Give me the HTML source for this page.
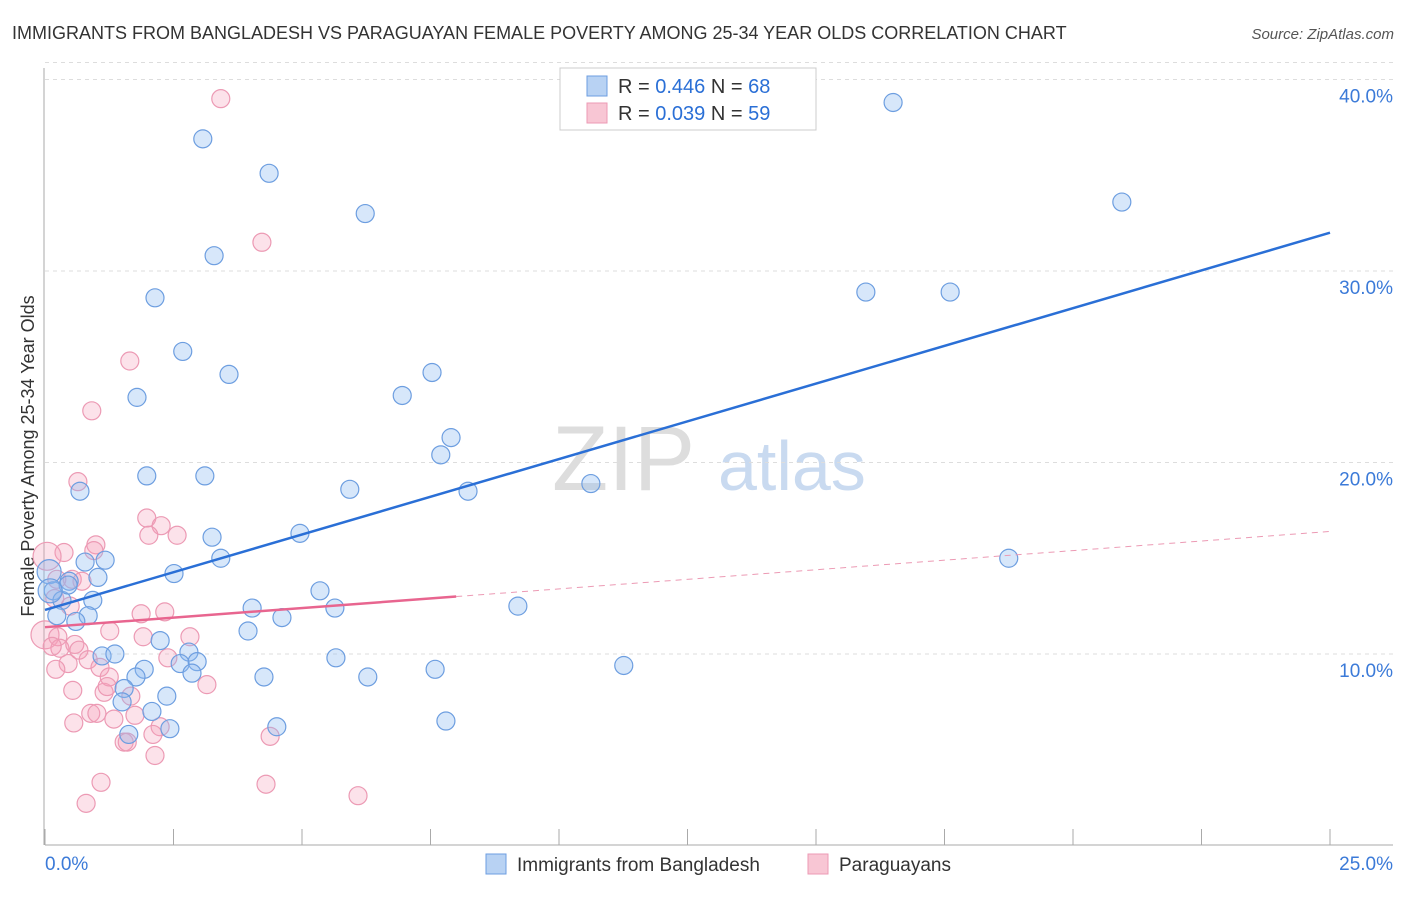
<!DOCTYPE html>
<html><head><meta charset="utf-8"><style>
body{margin:0;background:#fff;font-family:"Liberation Sans",sans-serif}
svg text{font-family:"Liberation Sans",sans-serif}
</style></head><body>
<svg id="chart" width="1406" height="892" xmlns="http://www.w3.org/2000/svg">
<text x="12" y="39" font-size="18" fill="#333">IMMIGRANTS FROM BANGLADESH VS PARAGUAYAN FEMALE POVERTY AMONG 25-34 YEAR OLDS CORRELATION CHART</text>
<text x="1394" y="39" font-size="15" fill="#555" font-style="italic" text-anchor="end">Source: ZipAtlas.com</text>
<text transform="translate(34,456) rotate(-90)" font-size="18" fill="#333" text-anchor="middle">Female Poverty Among 25-34 Year Olds</text>
<text x="552" y="490" font-size="92" fill="#ddd" font-family="Liberation Serif">ZIP</text>
<text x="718" y="490" font-size="70" fill="#c9daf0">atlas</text>
<g id="grid"></g><g id="marks"></g>
<g>
<rect x="560" y="68" width="256" height="62" fill="#fff" stroke="#ccc"/>
<rect x="587" y="76" width="20" height="20" fill="#b8d2f3" stroke="#6d9ee0"/>
<rect x="587" y="103" width="20" height="20" fill="#f8c6d4" stroke="#ec9ab4"/>
<text x="618" y="93" font-size="20" fill="#333">R = <tspan fill="#2a6fd6">0.446</tspan>    N = <tspan fill="#2a6fd6">68</tspan></text>
<text x="618" y="120" font-size="20" fill="#333">R = <tspan fill="#2a6fd6">0.039</tspan>    N = <tspan fill="#2a6fd6">59</tspan></text>
</g>
<g>
<rect x="486" y="854" width="20" height="20" fill="#b8d2f3" stroke="#6d9ee0"/>
<text x="517" y="871" font-size="19" fill="#333">Immigrants from Bangladesh</text>
<rect x="808" y="854" width="20" height="20" fill="#f8c6d4" stroke="#ec9ab4"/>
<text x="839" y="871" font-size="19" fill="#333">Paraguayans</text>
</g>
</svg>
<script>
const xTicks=[0,2.5,5,7.5,10,12.5,15,17.5,20,22.5,25];
const yTicks=[10,20,30,40];
const yTickLabels=["10.0%","20.0%","30.0%","40.0%"];
const blueX=[3.07,4.36,2.14,3.29,6.23,2.68,3.58,1.79,7.53,6.95,7.90,7.70,1.98,3.11,0.68,5.93,8.23,10.62,16.50,20.95,15.97,17.61,18.75,4.96,3.25,3.42,1.17,0.78,1.03,2.51,0.47,0.08,0.16,0.93,0.33,5.35,4.03,5.64,4.61,9.20,0.23,0.84,0.60,3.95,2.24,1.11,1.36,2.80,2.63,2.96,1.93,1.77,2.86,5.66,4.26,6.28,7.59,11.26,1.54,1.50,2.37,2.08,1.63,2.43,4.51,7.80,0.45,0.10];
const blueY=[36.9,35.1,28.6,30.8,33.0,25.8,24.6,23.4,24.7,23.5,21.3,20.4,19.3,19.3,18.5,18.6,18.5,18.9,38.8,33.6,28.9,28.9,15.0,16.3,16.1,15.0,14.9,14.8,14.0,14.2,13.8,14.3,13.3,12.8,12.8,13.3,12.4,12.4,11.9,12.5,12.0,12.0,11.7,11.2,10.7,9.9,10.0,10.1,9.5,9.6,9.2,8.8,9.0,9.8,8.8,8.8,9.2,9.4,8.2,7.5,7.8,7.0,5.8,6.1,6.2,6.5,13.6,13.3];
const pinkX=[3.42,4.22,1.65,0.91,0.64,1.98,2.26,2.02,2.57,0.99,0.37,0.95,0.04,0.53,0.23,0.72,0.19,0.49,1.87,2.33,0.0,0.25,1.26,0.29,0.58,0.66,0.14,2.82,1.91,0.84,0.45,0.21,1.07,2.39,3.15,0.54,1.15,1.67,1.25,1.21,0.89,1.01,1.34,1.75,0.56,2.24,2.10,1.54,1.60,2.14,4.38,1.09,4.30,6.09,0.80];
const pinkY=[39.0,31.5,25.3,22.7,19.0,17.1,16.7,16.2,16.2,15.7,15.3,15.4,15.1,13.9,13.9,13.8,12.9,12.5,12.1,12.2,11.0,10.9,11.2,10.3,10.5,10.2,10.4,10.9,10.9,9.7,9.5,9.2,9.3,9.8,8.4,8.1,8.0,7.8,8.8,8.3,6.9,6.9,6.6,6.8,6.4,6.2,5.8,5.4,5.4,4.7,5.7,3.3,3.2,2.6,2.2];
const blueTrend=[12.3,32.0];
const pinkTrend=[11.4,16.4];
const pinkSolidEnd=8;
const X=v=>45+v*51.4, Y=v=>845.5-v*19.15;
const NS="http://www.w3.org/2000/svg";
function mk(tag,attrs,parent){const e=document.createElementNS(NS,tag);for(const k in attrs)e.setAttribute(k,attrs[k]);parent.appendChild(e);return e;}
const grid=document.getElementById('grid'),marks=document.getElementById('marks');
let t=mk('line',{x1:45,y1:Y(40)-17,x2:1393,y2:Y(40)-17,stroke:'#ddd','stroke-dasharray':'4,4'},grid);


yTicks.forEach((v,i)=>{
 const g=mk('line',{x1:45,y1:Y(v),x2:1393,y2:Y(v),stroke:'#ddd','stroke-dasharray':'4,4'},grid);
 
 
 const tx=mk('text',{x:1393,y:Y(v)+23,'font-size':19,fill:'#3b7ad8','text-anchor':'end'},grid);
 tx.textContent=yTickLabels[i];
 
 
});
const ax=mk('line',{x1:45,y1:845,x2:1393,y2:845,stroke:'#aaa'},grid);


const ay=mk('line',{x1:44,y1:68,x2:44,y2:845,stroke:'#aaa'},grid);


xTicks.forEach(v=>{const l=mk('line',{x1:X(v),y1:829,x2:X(v),y2:845,stroke:'#aaa'},grid);
 
 });
let xl=mk('text',{x:45,y:870,'font-size':19,fill:'#3b7ad8'},grid);xl.textContent='0.0%';


xl=mk('text',{x:1393,y:870,'font-size':19,fill:'#3b7ad8','text-anchor':'end'},grid);xl.textContent='25.0%';


pinkX.forEach((x,i)=>{const c=mk('circle',{cx:X(x),cy:Y(pinkY[i]),r:(x<0.05?14:9),fill:'rgba(244,160,185,0.3)',stroke:'#ec9ab4','stroke-width':1.2},marks);
 
 });
blueX.forEach((x,i)=>{const c=mk('circle',{cx:X(x),cy:Y(blueY[i]),r:(x<0.12?12:9),fill:'rgba(140,185,240,0.35)',stroke:'#6d9ee0','stroke-width':1.2},marks);
 
 });
const pm=pinkTrend[0]+(pinkTrend[1]-pinkTrend[0])*pinkSolidEnd/25;
let l=mk('line',{x1:X(pinkSolidEnd),y1:Y(pm),x2:X(25),y2:Y(pinkTrend[1]),stroke:'#ec9ab4','stroke-width':1,'stroke-dasharray':'6,5'},marks);


l=mk('line',{x1:X(0),y1:Y(pinkTrend[0]),x2:X(pinkSolidEnd),y2:Y(pm),stroke:'#e8658f','stroke-width':2.5},marks);


l=mk('line',{x1:X(0),y1:Y(blueTrend[0]),x2:X(25),y2:Y(blueTrend[1]),stroke:'#2a6fd6','stroke-width':2.5},marks);


</script>
</body></html>
